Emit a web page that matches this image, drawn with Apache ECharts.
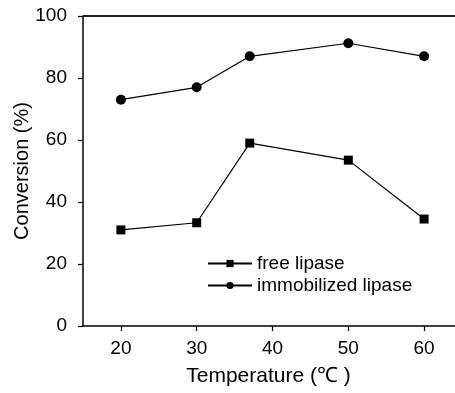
<!DOCTYPE html>
<html><head><meta charset="utf-8">
<script src="https://cdn.jsdelivr.net/npm/echarts@6/dist/echarts.min.js"></script>
<style>html,body{margin:0;padding:0;background:#fff}#c{width:455px;height:393px}</style>
</head><body><div id="c"></div>
<script>
const temps = [20, 30, 37, 50, 60];
const freeLipase = [31, 33.3, 59, 53.5, 34.5];
const immobilizedLipase = [73, 77, 87, 91.2, 87];
const xTicks = [20, 30, 40, 50, 60];
const yTicks = [0, 20, 40, 60, 80, 100];

const font = 'Liberation Sans, Arial, sans-serif';
const chart = echarts.init(document.getElementById('c'), null, {renderer: 'canvas'});
chart.setOption({
  animation: false,
  backgroundColor: '#fff',
  grid: {left: 83, top: 16, width: 379, height: 310, containLabel: false, outerBoundsMode: 'none', show: false},
  legend: {
    orient: 'vertical', left: 202, top: 249, itemWidth: 44, itemHeight: 9, itemGap: 3,
    textStyle: {fontFamily: font, fontSize: 19, lineHeight: 19, color: '#000'},
    data: ['free lipase', 'immobilized lipase']
  },
  xAxis: {
    type: 'value', min: 15, max: 65,
    name: 'Temperature (℃ )', nameLocation: 'middle', nameGap: 40, nameMoveOverlap: false,
    nameTextStyle: {fontFamily: font, fontSize: 21, color: '#000', padding: [0,0,0,-8]},
    axisLine: {onZero: false, lineStyle: {color: '#000', width: 1.5}},
    axisTick: {show: true, inside: false, length: 5, lineStyle: {color: '#000', width: 1.2}, customValues: xTicks},
    axisLabel: {fontFamily: font, fontSize: 19, color: '#000', margin: 13, customValues: xTicks},
    splitLine: {show: false}
  },
  yAxis: {
    type: 'value', min: 0, max: 100, interval: 20,
    name: 'Conversion (%)', nameLocation: 'middle', nameGap: 51, nameMoveOverlap: false,
    nameTextStyle: {fontFamily: font, fontSize: 20, color: '#000'},
    axisLine: {onZero: false, lineStyle: {color: '#000', width: 1.5}},
    axisTick: {show: true, inside: false, length: 5, lineStyle: {color: '#000', width: 1.2}},
    axisLabel: {fontFamily: font, fontSize: 19, color: '#000', margin: 16},
    splitLine: {show: false}
  },
  series: [
    {
      name: 'free lipase', type: 'line', data: temps.map((t, i) => [t, freeLipase[i]]),
      symbol: 'rect', symbolSize: 9, showAllSymbol: true,
      lineStyle: {color: '#000', width: 1.2}, itemStyle: {color: '#000'}
    },
    {
      name: 'immobilized lipase', type: 'line', data: temps.map((t, i) => [t, immobilizedLipase[i]]),
      symbol: 'circle', symbolSize: 10, showAllSymbol: true,
      lineStyle: {color: '#000', width: 1.2}, itemStyle: {color: '#000'},
      markLine: {
        silent: true, symbol: 'none', label: {show: false},
        lineStyle: {color: '#222', width: 1.8, type: 'solid'},
        data: [{yAxis: 100}]
      }
    }
  ]
});
</script></body></html>
